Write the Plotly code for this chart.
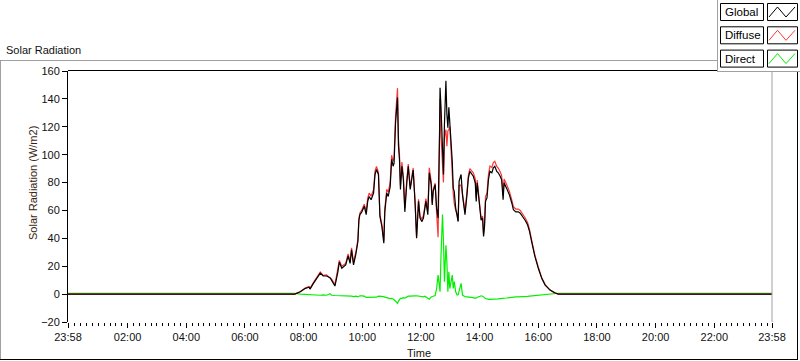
import plotly.graph_objects as go
from datetime import datetime, timedelta

# ---------------- data ----------------
day_prev = "2024-05-01"
day = "2024-05-02"
start_time = "23:58"   # previous day
end_time = "23:58"     # same day

times = ["07:42","07:53","08:03","08:11","08:13","08:20","08:27","08:34","08:40","08:47","08:54","08:57",
         "09:04","09:10","09:13","09:18","09:21","09:26","09:31","09:35","09:38","09:42","09:47","09:51",
         "09:53","09:55","09:59","10:04","10:08","10:11","10:14","10:18","10:23","10:26","10:29","10:33",
         "10:36","10:40","10:44","10:46","10:50","10:53","10:57","11:00","11:03","11:05","11:08","11:12",
         "11:14","11:16","11:18","11:21","11:24","11:27","11:31","11:34","11:38","11:41","11:44","11:48",
         "11:51","11:55","11:58","12:02","12:05","12:08","12:10","12:14","12:17","12:21","12:23","12:25",
         "12:29","12:32","12:35","12:38","12:39","12:41","12:44","12:46","12:48","12:51","12:53","12:55",
         "12:57","12:59","13:02","13:04","13:06","13:08","13:11","13:14","13:16","13:18","13:22","13:25",
         "13:27","13:30","13:34","13:37","13:40","13:44","13:47","13:51","13:53","13:55","13:58","14:01",
         "14:03","14:06","14:08","14:10","14:12","14:15","14:18","14:21","14:25","14:28","14:31","14:35",
         "14:38","14:42","14:45","14:48","14:50","14:55","15:01","15:06","15:09","15:14","15:19","15:23",
         "15:28","15:33","15:38","15:42","15:47","15:53","16:00","16:07","16:14","16:24","16:34","16:41"]

global_vals = [0,1.7,4,5,3.6,7.7,11.8,15,13,13,11.8,10,
               5.8,16,23,18.5,19.7,21,27.4,22,31.7,21,29,37.7,
               53,57,59,63,57,66.5,70,67.7,72.5,85.8,89.4,85.8,
               55.7,48.5,36.5,59,72.5,70,77,96.6,91.7,94,123,141,
               106,96.6,75,91.7,82,59,79.8,91.7,75,82,89,65,
               40,66.5,54.5,52,54.5,61.7,66.5,57,87,78.5,64,73.7,
               78.5,61.7,54.5,117,148,134,110,85.8,121.8,153,129,119.4,
               134,124,110,95,76,73.7,61.7,57,52,81,85.8,71,
               64,57,71,83.4,88,85.8,84.5,79.8,66.5,79.8,67.7,57,
               53,54.5,41.3,48.5,66.5,69,82,88,87,90.6,91.7,88,
               87,84.5,82,67.7,79.8,76,71,65,60.5,59,59,58,
               55.7,53,49.7,45,36.5,27,18.5,11.3,6.5,2.9,1,0]

diffuse_vals = [0,1.7,4.3,5.5,4.1,8.2,12.5,15.8,13.5,13.8,11.5,10.8,
                6.8,17,24.2,20,20.9,22,28.9,23.2,33.2,22.8,30.5,39.7,
                54.2,58.2,60.3,64.5,59.4,68.9,72.4,70.3,74.9,88.2,91.6,87.3,
                57.2,50,38.3,61.2,75.1,73,80.2,99.6,95.2,98,128,147.7,
                111,100.1,78,94.7,84.5,61.8,81.8,93.2,76.5,83.3,90.5,66.2,
                41.2,68,56,53.8,56.5,63.2,68.5,60,90.6,80.5,65.5,75.2,
                79.5,57.7,40.8,112,140,113,94,80,112,118,106,117,
                118,120,100,81,72,65,60,57.7,52.5,78,78.1,71.7,
                65.5,58.9,73,85.4,90,88.3,87,82.8,69,81.8,69.6,58.5,
                54.2,56,43.1,51,69.7,72.6,85.8,91.8,90.8,94.4,95.3,91.6,
                90.4,87.7,85,70.7,82.6,78.8,73.5,67.2,62.7,61,61,60,
                57.6,54.8,51.3,46.4,37.7,28,19.3,11.8,6.8,2.9,0.7,0]

direct_vals = [0.6,0,-0.3,-0.5,-0.5,-0.5,-0.7,-0.8,-0.5,-0.8,0.3,-0.8,
               -1,-1,-1.2,-1.5,-1.2,-1,-1.5,-1.2,-1.5,-1.8,-1.5,-2,
               -1.2,-1.2,-1.3,-1.5,-2.4,-2.4,-2.4,-2.6,-2.4,-2.4,-2.2,-1.5,
               -1.5,-1.5,-1.8,-2.2,-2.6,-3,-3.2,-3,-3.5,-4,-5,-6.7,
               -5,-3.5,-3,-3,-2.5,-2.8,-2,-1.5,-1.5,-1.3,-1.5,-1.2,
               -1.2,-1.5,-1.5,-1.8,-2,-1.5,-2,-3,-3.6,-2,-1.5,-1.5,
               -1,4,13.7,5,1.7,28,57,37.7,8.9,35,23,1.7,
               16,4,10,13.7,4,9,1.7,-0.7,-0.5,3,7.7,-0.7,
               -1.5,-1.9,-2,-2,-2,-2.5,-2.5,-3,-2.5,-2,-1.9,-1.5,
               -1.2,-1.5,-1.8,-2.5,-3.2,-3.6,-3.8,-3.8,-3.8,-3.8,-3.6,-3.6,
               -3.4,-3.2,-3,-3,-2.8,-2.8,-2.5,-2.2,-2.2,-2,-2,-2,
               -1.9,-1.8,-1.6,-1.4,-1.2,-1,-0.8,-0.5,-0.3,0,0.3,0.6]

night_global = 0
night_diffuse = 0
night_direct = 0.6

tick_times = ["02:00","04:00","06:00","08:00","10:00","12:00","14:00","16:00","18:00","20:00","22:00"]
tick_labels = ["23:58"] + tick_times + ["23:58"]
y_ticks = [-20, 0, 20, 40, 60, 80, 100, 120, 140, 160]
minor_step_min = 12

series_names = ["Global", "Diffuse", "Direct"]
series_colors = ["#000000", "#ff3636", "#00f000"]

# ---------------- build ----------------
t_start = f"{day_prev} {start_time}"
t_end = f"{day} {end_time}"
xs = [t_start] + [f"{day} {t}" for t in times] + [t_end]

def full(vals, night):
    return [night] + list(vals) + [night]

series_vals = {
    "Global": full(global_vals, night_global),
    "Diffuse": full(diffuse_vals, night_diffuse),
    "Direct": full(direct_vals, night_direct),
}

fig = go.Figure()
for name in ["Direct", "Diffuse", "Global"]:
    col = series_colors[series_names.index(name)]
    fig.add_trace(go.Scatter(x=xs, y=series_vals[name], mode="lines", name=name,
                             line=dict(color=col, width=1.2), showlegend=False))

W, H = 800, 361
L, R, T, B = 68, 772, 71, 322

def px(x):
    return (x - L) / (R - L)

def py(y):
    return (B - y) / (B - T)

FONT = "Liberation Sans, Arial, sans-serif"

# minor tick positions every 12 min, aligned to the 2-hour major ticks
d0 = datetime.strptime(f"{day} 00:00", "%Y-%m-%d %H:%M")
minor_vals = []
m = minor_step_min
while m < 24 * 60 - 2:
    if m % 120 != 0:
        minor_vals.append((d0 + timedelta(minutes=m)).strftime("%Y-%m-%d %H:%M"))
    m += minor_step_min

fig.update_layout(
    width=W, height=H,
    margin=dict(l=L, r=W - R, t=T, b=H - B),
    paper_bgcolor="white", plot_bgcolor="white",
    font=dict(family=FONT, size=11, color="#111111"),
)
fig.update_xaxes(
    type="date", range=[t_start, t_end],
    tickmode="array", tickvals=[t_start] + [f"{day} {t}" for t in tick_times] + [t_end],
    ticktext=tick_labels,
    ticks="outside", ticklen=5, tickcolor="black", tickwidth=1,
    minor=dict(tickmode="array", tickvals=minor_vals,
               ticks="outside", ticklen=3, tickcolor="black", tickwidth=1, showgrid=False),
    showgrid=False, zeroline=False, showline=False,
    tickfont=dict(family=FONT, size=11, color="#111111"),
)
fig.update_yaxes(
    range=[-20, 160], tickmode="array", tickvals=y_ticks,
    ticks="outside", ticklen=5, tickcolor="black", tickwidth=1,
    showgrid=False, zeroline=False, showline=True, linecolor="black", linewidth=1,
    tickfont=dict(family=FONT, size=11, color="#111111"),
)

shapes = []
def hline(y, x0, x1, color, w=1):
    shapes.append(dict(type="line", xref="paper", yref="paper", x0=px(x0), x1=px(x1),
                       y0=py(y), y1=py(y), line=dict(color=color, width=w)))
def vline(x, y0, y1, color, w=1):
    shapes.append(dict(type="line", xref="paper", yref="paper", x0=px(x), x1=px(x),
                       y0=py(y0), y1=py(y1), line=dict(color=color, width=w)))
def rect(x0, y0, x1, y1, fill, color=None, w=1):
    shapes.append(dict(type="rect", xref="paper", yref="paper", x0=px(x0), x1=px(x1),
                       y0=py(y0), y1=py(y1), fillcolor=fill,
                       line=dict(color=color if color else fill, width=w if color else 0)))

# panel frame
hline(60.5, 0, 717, "#a0a0a0")
vline(0.5, 60, 360, "#a0a0a0")
hline(359.5, 0, 798, "#000000")
vline(797.5, 72, 360, "#000000")
# plot frame
hline(70.5, 68, 717, "#000000")
vline(772, 72, 322, "#a0a0a0")
# legend panel
rect(717, -2, 801, 71.5, "white")
vline(717.5, 0, 72, "#a0a0a0")
hline(71.5, 717, 800, "#a0a0a0")

annotations = []
row_top = [3.5, 26.8, 50.1]
for i, name in enumerate(series_names):
    t0 = row_top[i]
    t1 = t0 + 17
    rect(720.5, t0, 763.5, t1, "white", "#000000")
    rect(767.5, t0, 797.5, t1, "white", "#000000")
    pts = [(769, t1 - 3.5), (777.5, t0 + 3.5), (786, t1 - 3.5), (795, t0 + 3.5)]
    path = "M " + " L ".join(f"{px(a)},{py(b)}" for a, b in pts)
    shapes.append(dict(type="path", xref="paper", yref="paper", path=path,
                       line=dict(color=series_colors[i], width=1)))
    annotations.append(dict(text=name, xref="paper", yref="paper", x=px(723), y=py((t0 + t1) / 2),
                            xanchor="left", yanchor="middle", showarrow=False,
                            font=dict(family=FONT, size=11.5, color="#000000")))

annotations.append(dict(text="Solar Radiation", xref="paper", yref="paper", x=px(4), y=py(50),
                        xanchor="left", yanchor="middle", showarrow=False,
                        font=dict(family=FONT, size=11, color="#111111")))
annotations.append(dict(text="Time", xref="paper", yref="paper", x=px(419), y=py(353),
                        xanchor="center", yanchor="middle", showarrow=False,
                        font=dict(family=FONT, size=11, color="#1a1208")))
annotations.append(dict(text="Solar Radiation (W/m2)", xref="paper", yref="paper", x=px(33), y=py(183),
                        xanchor="center", yanchor="middle", showarrow=False, textangle=-90,
                        font=dict(family=FONT, size=11, color="#3a2410")))

fig.update_layout(shapes=shapes, annotations=annotations)
fig.write_html("out.html", config={"displayModeBar": False},
               post_script="document.body.style.margin='0px';document.body.style.overflow='hidden';")
